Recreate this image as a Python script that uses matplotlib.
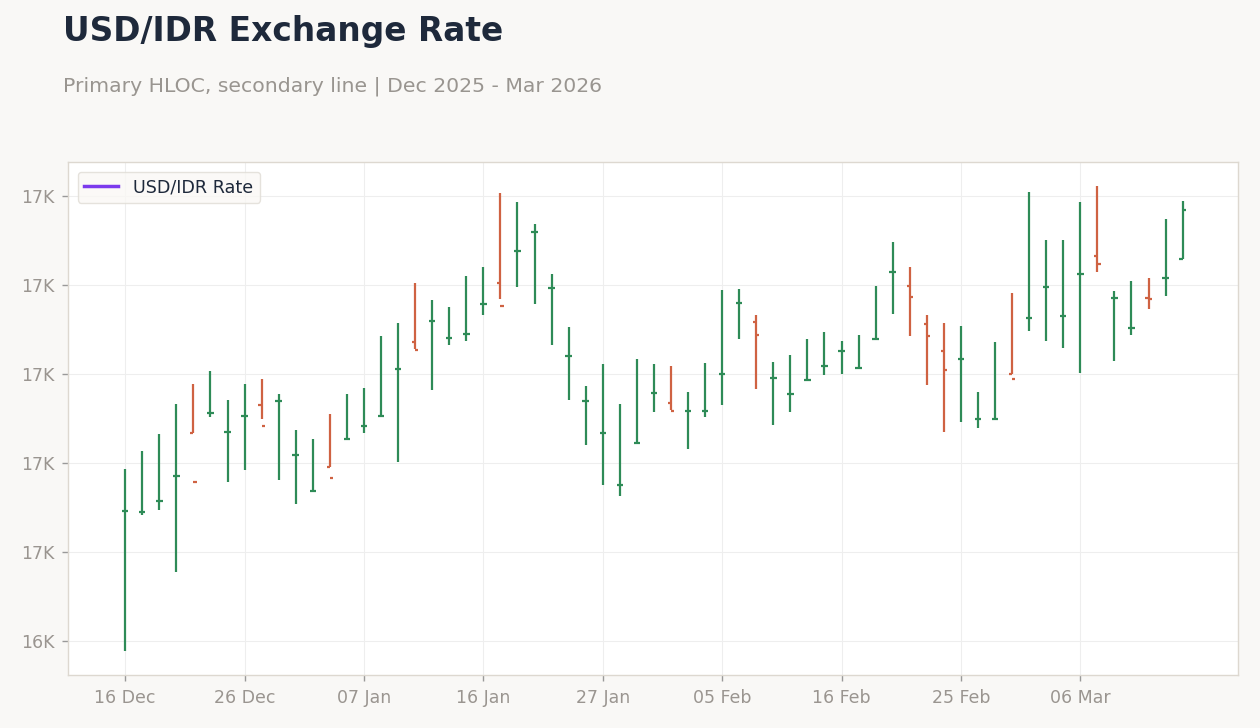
import matplotlib
matplotlib.use("Agg")
import matplotlib.pyplot as plt
from matplotlib.lines import Line2D
from matplotlib.ticker import FuncFormatter, FixedLocator
import numpy as np
import pandas as pd

# trading days (weekends and 25 Dec / 01 Jan skipped)
dates = pd.bdate_range("2025-12-16", "2026-03-16", freq="C",
                       holidays=["2025-12-25", "2026-01-01"])

opens = [16573.0, 16572.5, 16578.7, 16592.7, 16616.9, 16628.1, 16617.4, 16626.4,
         16632.6, 16634.8, 16604.5, 16584.3, 16597.8, 16613.5, 16620.8, 16626.4,
         16652.8, 16668.0, 16679.8, 16670.2, 16672.5, 16689.3, 16701.1, 16719.1,
         16729.8, 16698.3, 16660.1, 16634.8, 16616.9, 16587.6, 16611.2, 16639.3,
         16633.7, 16629.2, 16629.2, 16650.0, 16689.9, 16679.2, 16647.8, 16638.8,
         16646.6, 16654.5, 16662.9, 16653.4, 16669.7, 16707.3, 16699.4, 16678.1,
         16662.9, 16658.4, 16624.7, 16624.7, 16650.0, 16681.5, 16698.9, 16682.6,
         16706.2, 16716.3, 16692.7, 16675.8, 16692.5, 16703.9, 16714.6]
highs = [16596.6, 16606.7, 16616.3, 16633.1, 16644.4, 16651.7, 16635.4, 16644.4,
         16647.2, 16638.8, 16618.5, 16613.5, 16627.5, 16638.8, 16642.1, 16671.3,
         16678.7, 16701.1, 16691.6, 16687.6, 16705.1, 16710.1, 16751.7, 16746.6,
         16734.3, 16706.2, 16676.4, 16643.3, 16655.6, 16633.1, 16658.4, 16655.6,
         16654.5, 16639.9, 16656.2, 16697.2, 16697.8, 16683.1, 16656.7, 16660.7,
         16669.7, 16673.6, 16668.5, 16671.9, 16699.4, 16724.2, 16710.1, 16683.1,
         16678.7, 16677.0, 16639.9, 16668.0, 16695.5, 16752.2, 16725.3, 16725.3,
         16746.6, 16755.6, 16696.6, 16702.2, 16703.9, 16737.1, 16747.2]
lows = [16494.4, 16570.8, 16573.6, 16538.8, 16616.9, 16625.8, 16589.3, 16596.1,
        16624.7, 16590.4, 16577.0, 16584.3, 16597.8, 16613.5, 16616.9, 16626.4,
        16600.6, 16664.0, 16641.0, 16666.3, 16668.5, 16683.1, 16692.1, 16698.9,
        16689.3, 16666.3, 16635.4, 16610.1, 16587.6, 16581.5, 16611.2, 16628.7,
        16629.8, 16607.9, 16625.8, 16632.6, 16669.7, 16641.6, 16621.3, 16628.7,
        16646.6, 16649.4, 16650.0, 16653.4, 16669.7, 16683.7, 16671.3, 16643.8,
        16617.4, 16623.0, 16619.7, 16624.7, 16650.0, 16674.2, 16668.5, 16664.6,
        16650.6, 16707.3, 16657.3, 16671.9, 16686.5, 16693.8, 16714.6]
closes = [16573.0, 16572.5, 16578.7, 16592.7, 16589.3, 16628.1, 16617.4, 16626.4,
          16620.8, 16634.8, 16604.5, 16584.3, 16591.6, 16613.5, 16620.8, 16626.4,
          16652.8, 16663.5, 16679.8, 16670.2, 16672.5, 16689.3, 16688.2, 16719.1,
          16729.8, 16698.3, 16660.1, 16634.8, 16616.9, 16587.6, 16611.2, 16639.3,
          16629.2, 16629.2, 16629.2, 16650.0, 16689.9, 16671.9, 16647.8, 16638.8,
          16646.6, 16654.5, 16662.9, 16653.4, 16669.7, 16707.3, 16693.3, 16671.3,
          16652.2, 16658.4, 16624.7, 16624.7, 16647.2, 16681.5, 16698.9, 16682.6,
          16706.2, 16711.8, 16692.7, 16675.8, 16692.2, 16703.9, 16742.1]

y_ticks = [16500, 16550, 16600, 16650, 16700, 16750]

UP = "#2e8b57"
DOWN = "#cf6242"
BG = "#f9f8f6"

fig = plt.figure(figsize=(12.6, 7.28), dpi=100, facecolor=BG)
ax = fig.add_axes([0.054, 0.0728, 0.9286, 0.7047])
ax.set_facecolor("white")

x = np.arange(len(dates))
o = np.array(opens)
h = np.array(highs)
l = np.array(lows)
c = np.array(closes)
colors = np.where(c >= o, UP, DOWN)

tick = 0.19
lw = 1.6
ax.vlines(x, l, h, colors=colors, linewidth=lw, zorder=3)
ax.hlines(o, x - tick, x, colors=colors, linewidth=lw, zorder=3)
ax.hlines(c, x, x + tick, colors=colors, linewidth=lw, zorder=3)

ax.set_xlim(-3.35, 65.25)
ax.set_ylim(16481, 16769)

tick_idx = list(range(0, len(dates), 7))
ax.xaxis.set_major_locator(FixedLocator(tick_idx))
ax.set_xticklabels([dates[i].strftime("%d %b") for i in tick_idx])
ax.yaxis.set_major_locator(FixedLocator(y_ticks))
ax.yaxis.set_major_formatter(FuncFormatter(lambda v, p: f"{v / 1000:.0f}K"))

ax.grid(True, color="#eeeeee", linewidth=0.8, zorder=0)
ax.set_axisbelow(True)
for s in ax.spines.values():
    s.set_color("#ddd8d0")
    s.set_linewidth(1.0)
ax.tick_params(colors="#999999", labelcolor="#9a9590", labelsize=12.5, length=4, width=1)
ax.tick_params(axis="x", pad=6)
ax.tick_params(axis="y", pad=6)

handle = Line2D([], [], color="#7c3aed", linewidth=2.5)
leg = ax.legend([handle], ["USD/IDR Rate"], loc="upper left", fontsize=12.6,
                frameon=True, facecolor="#faf8f5", edgecolor="#e0dcd5",
                handlelength=1.9, handletextpad=0.9, borderpad=0.38,
                bbox_to_anchor=(0.0, 1.0), borderaxespad=0.55)
for t in leg.get_texts():
    t.set_color("#1e293b")

fig.text(0.05, 0.943, "USD/IDR Exchange Rate", fontsize=23.7, fontweight="bold",
         color="#1e293b", ha="left", va="baseline")
fig.text(0.05, 0.874, "Primary HLOC, secondary line | Dec 2025 - Mar 2026",
         fontsize=14.7, color="#999590", ha="left", va="baseline")

fig.savefig("out.png", dpi=100, facecolor=BG)
